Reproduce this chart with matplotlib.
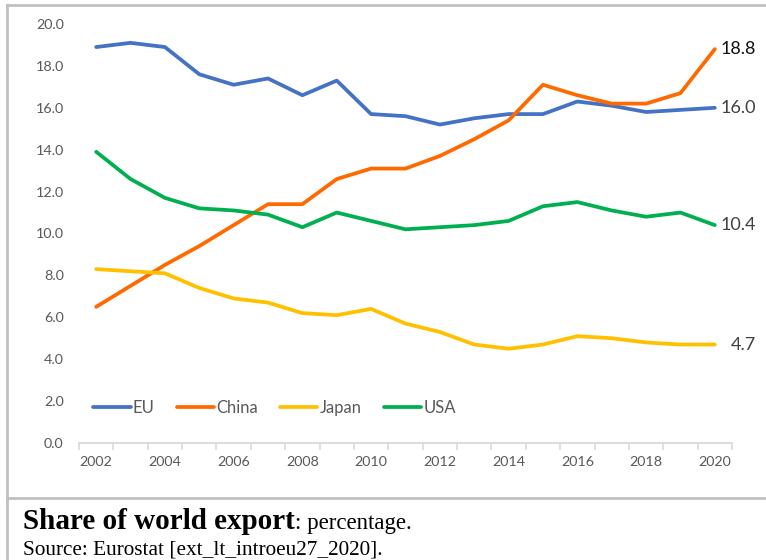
import numpy as np
import matplotlib.pyplot as plt
from matplotlib.lines import Line2D

years = list(range(2002, 2021))
eu = [18.9, 19.1, 18.9, 17.6, 17.1, 17.4, 16.6, 17.3, 15.7, 15.6,
      15.2, 15.5, 15.7, 15.7, 16.3, 16.1, 15.8, 15.9, 16.0]
china = [6.5, 7.5, 8.5, 9.4, 10.4, 11.4, 11.4, 12.6, 13.1, 13.1,
         13.7, 14.5, 15.4, 17.1, 16.6, 16.2, 16.2, 16.7, 18.8]
japan = [8.3, 8.2, 8.1, 7.4, 6.9, 6.7, 6.2, 6.1, 6.4, 5.7,
         5.3, 4.7, 4.5, 4.7, 5.1, 5.0, 4.8, 4.7, 4.7]
usa = [13.9, 12.6, 11.7, 11.2, 11.1, 10.9, 10.3, 11.0, 10.6, 10.2,
       10.3, 10.4, 10.6, 11.3, 11.5, 11.1, 10.8, 11.0, 10.4]

series = [("EU", eu, "#4472C4", "#404040"),
          ("China", china, "#FF6A00", "#111111"),
          ("Japan", japan, "#FFC000", "#404040"),
          ("USA", usa, "#00B050", "#404040")]

plt.rcParams['font.family'] = ['Lato', 'DejaVu Sans']
W, H = 766, 560
fig = plt.figure(figsize=(W / 100, H / 100), dpi=100)
ax = fig.add_axes([79 / W, 1 - 443 / H, (732 - 79) / W, (443 - 24) / H])

x = np.arange(len(years))
for name, vals, col, lab_col in series:
    ax.plot(x, vals, color=col, lw=2.7, label=name, solid_capstyle='round')
    # value of the last year at the right end of each line
    ax.annotate(f"{vals[-1]:.1f}", xy=(x[-1], vals[-1]), xytext=(29.5, 0),
                textcoords='offset points', ha='right', va='center',
                fontsize=13, color=lab_col)

ax.set_xlim(-0.5, len(years) - 0.5)
ax.set_ylim(0, 20)
ax.set_yticks(np.arange(0, 20.1, 2))
ax.set_yticklabels([f"{v:.1f}" for v in np.arange(0, 20.1, 2)])
ax.set_xticks(x[::2])
ax.set_xticklabels([str(y) for y in years[::2]])
ax.set_xticks(np.arange(-0.5, len(years)), minor=True)
ax.tick_params(axis='x', which='major', length=0, pad=9, labelsize=10.3,
               labelcolor='#595959')
ax.tick_params(axis='x', which='minor', length=5, width=1.2, color='#d9d9d9')
ax.tick_params(axis='y', length=0, pad=11, labelsize=10.3, labelcolor='#595959')
for s in ['top', 'right', 'left']:
    ax.spines[s].set_visible(False)
ax.spines['bottom'].set_color('#d9d9d9')
ax.spines['bottom'].set_linewidth(1.3)

ax.legend(loc='center left', bbox_to_anchor=(14 / 653, 35 / 419), frameon=False,
          ncol=4, fontsize=12, handlelength=2.25, handletextpad=0.15,
          columnspacing=1.3, borderpad=0, borderaxespad=0, labelcolor='#595959')

# outer frame and caption separator
frame = dict(color='#c0c0c0', lw=2, transform=None)
fig.add_artist(Line2D([7, 7], [0, H - 5], **frame))
fig.add_artist(Line2D([7, W], [H - 5, H - 5], **frame))
fig.add_artist(Line2D([7, W], [H - 498, H - 498], **frame))

renderer = fig.canvas.get_renderer()
t1 = fig.text(23 / W, 1 - 529 / H, "Share of world export", fontsize=21,
              fontweight='bold', family='Liberation Serif', va='baseline')
bb = t1.get_window_extent(renderer)
fig.text(bb.x1 / W, 1 - 529 / H, ": percentage.", fontsize=16.5,
         family='Liberation Serif', va='baseline')
fig.text(23 / W, 1 - 554 / H, "Source: Eurostat [ext_lt_introeu27_2020].",
         fontsize=15.3, family='Liberation Serif', va='baseline')

fig.savefig("out.png", dpi=100)
